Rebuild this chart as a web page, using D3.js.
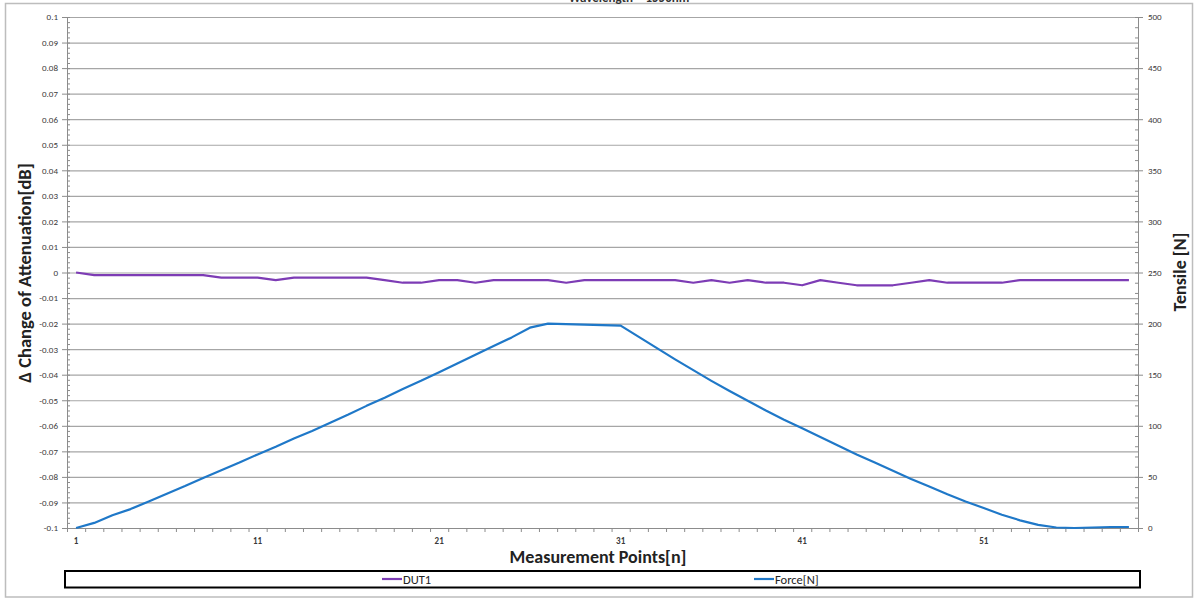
<!DOCTYPE html>
<html>
<head>
<meta charset="utf-8">
<script src="https://cdn.jsdelivr.net/npm/d3@7/dist/d3.min.js"></script>
<style>
  html, body { margin: 0; padding: 0; background: #fff; }
  svg { display: block; font-family: Carlito, Lato, "Open Sans", sans-serif; }
</style>
</head>
<body>
<svg id="chart" width="1195" height="601"></svg>
<script>
// ---- data ----
const points = d3.range(1, 60); // measurement points 1..59
const dut1 = [
  0,
  -0.001, -0.001, -0.001, -0.001, -0.001, -0.001, -0.001,
  -0.002, -0.002, -0.002,
  -0.003,
  -0.002, -0.002, -0.002, -0.002, -0.002,
  -0.003,
  -0.004, -0.004,
  -0.003, -0.003,
  -0.004,
  -0.003, -0.003, -0.003, -0.003,
  -0.004,
  -0.003, -0.003, -0.003, -0.003, -0.003, -0.003,
  -0.004, -0.003, -0.004, -0.003,
  -0.004, -0.004,
  -0.005, -0.003, -0.004,
  -0.005, -0.005, -0.005,
  -0.004, -0.003,
  -0.004, -0.004, -0.004, -0.004,
  -0.003, -0.003, -0.003, -0.003, -0.003, -0.003, -0.003
];
const force = [
  0, 5, 12.5, 18.5, 26, 33.5, 41, 49, 56.5, 64,
  72, 79.5, 87.5, 95, 103, 111, 119.5, 127.5, 136, 144,
  152.5, 161, 169.5, 178, 186.5, 196, 200, 199.5, 199, 198.5,
  198, 187, 176, 165, 154.5, 144, 134, 124.5, 115, 106,
  97.5, 89, 80.5, 72, 64, 56, 48, 40.5, 33, 26,
  19.5, 13, 7.5, 3, 0.5, 0, 0.5, 1, 1
];
const leftTicks = d3.range(-10, 11).map(d => d / 100);
const rightTicks = d3.range(0, 501, 50);
const xLabels = [1, 11, 21, 31, 41, 51];
const seriesNames = ["DUT1", "Force[N]"];
const titleText = "Wavelength = 1550nm";

// ---- layout ----
const svg = d3.select("#chart");
const L = 67, R = 1138, T = 17, B = 528;
const colDUT = "#7d3cb5", colForce = "#1f78c8";

// frame
svg.append("rect").attr("x", 5.5).attr("y", 3.5).attr("width", 1187).attr("height", 593.5)
  .attr("fill", "none").attr("stroke", "#bdbdbd").attr("stroke-width", 1.5);

// title (cut at top, as in the reference)
svg.append("text").attr("x", 629).attr("y", 2).attr("text-anchor", "middle")
  .attr("font-size", 13).attr("font-weight", "bold").attr("fill", "#333").text(titleText);

const x = d3.scaleBand().domain(points).range([L, R]).padding(0);
const xb = d3.scaleLinear().domain([0, points.length]).range([L, R]);
const yL = d3.scaleLinear().domain([-0.1, 0.1]).range([B, T]);
const yR = d3.scaleLinear().domain([0, 500]).range([B, T]);

// gridlines
svg.append("g").attr("transform", `translate(${L},0)`)
  .call(d3.axisLeft(yL).tickValues(leftTicks.filter(d => d > -0.1)).tickSize(-(R - L)).tickFormat(""))
  .call(g => g.select(".domain").remove())
  .call(g => g.selectAll("line").attr("stroke", "#a6a6a6").attr("stroke-width", 1.2));

// left axis minor ticks (inside)
svg.append("g").attr("transform", `translate(${L},0)`)
  .call(d3.axisRight(yL).ticks(100).tickSize(3).tickFormat(""))
  .call(g => g.select(".domain").remove())
  .call(g => g.selectAll("line").attr("stroke", "#8c8c8c"));
// left axis major
svg.append("g").attr("transform", `translate(${L},0)`)
  .call(d3.axisLeft(yL).tickValues(leftTicks).tickSize(5).tickPadding(4)
    .tickFormat(d => String(+d.toFixed(2))))
  .call(g => g.select(".domain").attr("stroke", "#8c8c8c"))
  .call(g => g.selectAll("line").attr("stroke", "#8c8c8c"))
  .call(g => g.selectAll("text").attr("font-size", 9).attr("fill", "#3a3a3a")
    .attr("font-family", "Carlito, Lato, sans-serif"));

// right axis minor ticks (inside)
svg.append("g").attr("transform", `translate(${R},0)`)
  .call(d3.axisLeft(yR).tickValues(d3.range(0, 501, 10)).tickSize(3).tickFormat(""))
  .call(g => g.select(".domain").remove())
  .call(g => g.selectAll("line").attr("stroke", "#8c8c8c"));
// right axis major
svg.append("g").attr("transform", `translate(${R},0)`)
  .call(d3.axisRight(yR).tickValues(rightTicks).tickSize(5).tickPadding(5))
  .call(g => g.select(".domain").attr("stroke", "#8c8c8c"))
  .call(g => g.selectAll("line").attr("stroke", "#8c8c8c"))
  .call(g => g.selectAll("text").attr("font-size", 9).attr("fill", "#3a3a3a")
    .attr("font-family", "Carlito, Lato, sans-serif"));

// x axis boundary ticks
svg.append("g").attr("transform", `translate(0,${B})`)
  .call(d3.axisBottom(xb).tickValues(d3.range(0, points.length + 1)).tickSize(4).tickFormat(""))
  .call(g => g.select(".domain").attr("stroke", "#8c8c8c"))
  .call(g => g.selectAll("line").attr("stroke", "#8c8c8c"));
// x labels
svg.append("g").attr("transform", `translate(0,${B})`)
  .call(d3.axisBottom(x).tickValues(xLabels).tickSize(0).tickPadding(10))
  .call(g => g.select(".domain").remove())
  .call(g => g.selectAll("text").attr("font-size", 9).attr("font-weight", "bold").attr("fill", "#3a3a3a")
    .attr("font-family", "Carlito, Lato, sans-serif"));

// axis titles
svg.append("text").attr("x", 598).attr("y", 563).attr("text-anchor", "middle")
  .attr("font-size", 18).attr("font-weight", "bold").attr("fill", "#222")
  .text("Measurement Points[n]");
svg.append("text").attr("transform", "translate(31,273) rotate(-90)").attr("text-anchor", "middle")
  .attr("font-size", 18.5).attr("font-weight", "bold").attr("fill", "#222")
  .text("Δ Change of Attenuation[dB]");
svg.append("text").attr("transform", "translate(1186,272) rotate(-90)").attr("text-anchor", "middle")
  .attr("font-size", 18).attr("font-weight", "bold").attr("fill", "#222")
  .text("Tensile [N]");

// lines
const cx = d => x(d) + x.bandwidth() / 2;
svg.append("path").datum(points.map((p, i) => [p, force[i]]))
  .attr("fill", "none").attr("stroke", colForce).attr("stroke-width", 2.2).attr("stroke-linejoin", "round")
  .attr("d", d3.line().x(d => cx(d[0])).y(d => yR(d[1])));
svg.append("path").datum(points.map((p, i) => [p, dut1[i]]))
  .attr("fill", "none").attr("stroke", colDUT).attr("stroke-width", 2.2).attr("stroke-linejoin", "round")
  .attr("d", d3.line().x(d => cx(d[0])).y(d => yL(d[1])));

// legend
svg.append("rect").attr("x", 65).attr("y", 571).attr("width", 1075).attr("height", 16.5)
  .attr("fill", "#fff").attr("stroke", "#000").attr("stroke-width", 2);
const legItems = [
  { name: seriesNames[0], color: colDUT, x: 382 },
  { name: seriesNames[1], color: colForce, x: 754 }
];
legItems.forEach(it => {
  svg.append("line").attr("x1", it.x).attr("x2", it.x + 20).attr("y1", 579).attr("y2", 579)
    .attr("stroke", it.color).attr("stroke-width", 2.2);
  svg.append("text").attr("x", it.x + 21).attr("y", 584).attr("font-size", 12.5).attr("fill", "#222")
    .text(it.name);
});
</script>
</body>
</html>
